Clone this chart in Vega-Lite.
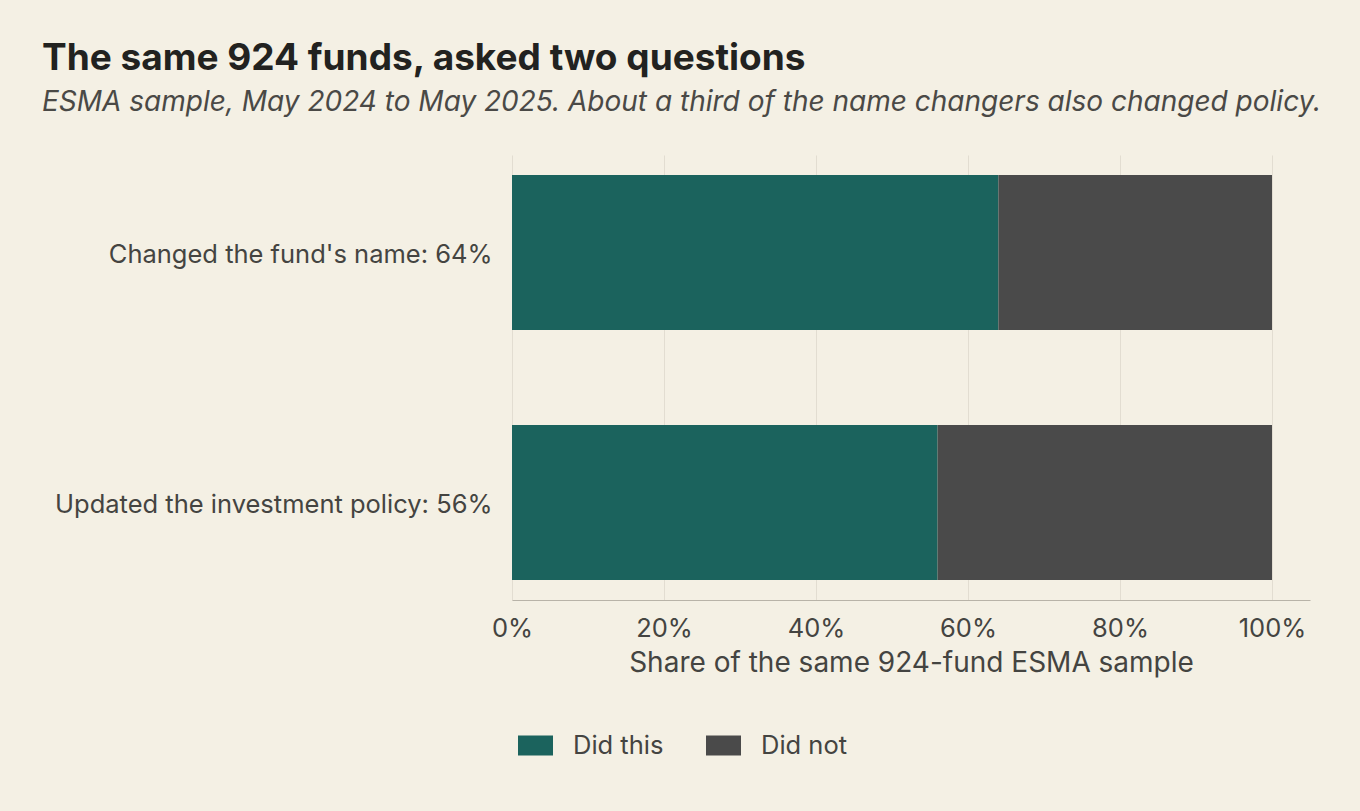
{
  "$schema": "https://vega.github.io/schema/vega-lite/v6.json",
  "width": 798,
  "height": 445,
  "padding": {"left": 42, "top": 40, "right": 50, "bottom": 47},
  "background": "#f4f0e4",
  "title": {
    "text": "The same 924 funds, asked two questions",
    "subtitle": "ESMA sample, May 2024 to May 2025. About a third of the name changers also changed policy.",
    "anchor": "start",
    "frame": "bounds",
    "font": "Inter",
    "fontSize": 37,
    "fontWeight": "bold",
    "color": "#222220",
    "subtitleFont": "Inter",
    "subtitleFontSize": 28,
    "subtitleFontStyle": "italic",
    "subtitleColor": "#4a4946",
    "subtitlePadding": 11,
    "offset": 37
  },
  "data": {
    "values": [
      {"question": "Changed the fund's name: 64%", "status": "Did this", "k": 0, "share": 0.64},
      {"question": "Changed the fund's name: 64%", "status": "Did not", "k": 1, "share": 0.36},
      {"question": "Updated the investment policy: 56%", "status": "Did this", "k": 0, "share": 0.56},
      {"question": "Updated the investment policy: 56%", "status": "Did not", "k": 1, "share": 0.44}
    ]
  },
  "mark": {"type": "bar"},
  "encoding": {
    "y": {
      "field": "question",
      "type": "nominal",
      "sort": null,
      "scale": {"paddingInner": 0.38, "paddingOuter": 0.08},
      "axis": {
        "title": null,
        "domain": false,
        "ticks": false,
        "labelPadding": 20,
        "labelFont": "Inter",
        "labelFontSize": 25.5,
        "labelColor": "#444441",
        "labelLimit": 600,
        "labelOffset": 2,
        "minExtent": 470
      }
    },
    "x": {
      "field": "share",
      "type": "quantitative",
      "stack": "zero",
      "scale": {"domain": [0, 1.05], "nice": false},
      "axis": {
        "title": "Share of the same 924-fund ESMA sample",
        "values": [0, 0.2, 0.4, 0.6, 0.8, 1],
        "format": ".0%",
        "ticks": false,
        "grid": true,
        "gridColor": "#e2ddd1",
        "domainColor": "#b8b3a8",
        "labelFlush": false,
        "labelPadding": 16,
        "labelFont": "Inter",
        "labelFontSize": 25.5,
        "labelColor": "#444441",
        "titleFont": "Inter",
        "titleFontSize": 28,
        "titleFontWeight": "normal",
        "titleColor": "#444441",
        "titlePadding": 8
      }
    },
    "color": {
      "field": "status",
      "type": "nominal",
      "scale": {"domain": ["Did this", "Did not"], "range": ["#1b635d", "#4a4a4a"]},
      "legend": {
        "title": null,
        "orient": "bottom",
        "direction": "horizontal",
        "padding": 6,
        "symbolType": "M-1,-0.57H1V0.57H-1Z",
        "symbolSize": 1225,
        "symbolStrokeWidth": 0,
        "labelFont": "Inter",
        "labelFontSize": 25.5,
        "labelColor": "#444441",
        "labelOffset": 20,
        "columnPadding": 42,
        "offset": 44
      }
    },
    "order": {"field": "k", "type": "quantitative"}
  },
  "config": {
    "view": {"stroke": null}
  }
}
